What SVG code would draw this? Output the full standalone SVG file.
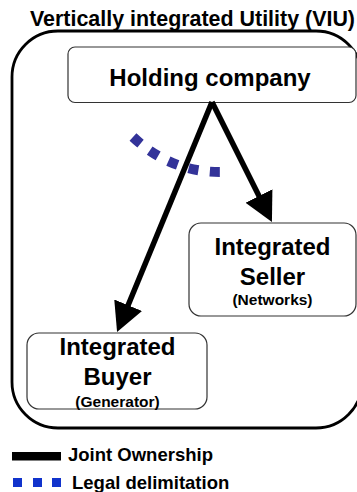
<svg xmlns="http://www.w3.org/2000/svg" width="357" height="492" viewBox="0 0 357 492">
  <defs>
    <style>
      text { font-family: "Liberation Sans", Arial, sans-serif; font-weight: bold; fill: #000; }
      .box { fill: #fff; stroke: #333; stroke-width: 1.2; }
      .own { fill: none; stroke: #000; stroke-width: 5.5; }
      .legal { fill: none; stroke: #333399; stroke-width: 10; stroke-dasharray: 10 11.5; }
      .big { font-size: 24px; text-anchor: middle; }
      .small { font-size: 15.5px; text-anchor: middle; }
      .leg { font-size: 18.5px; }
    </style>
    <marker id="head" markerUnits="userSpaceOnUse" markerWidth="32" markerHeight="32" viewBox="0 -16 32 32" refX="9" refY="0" orient="auto">
      <path d="M0,-15 L29,0 L0,15 z" fill="#000"/>
    </marker>
  </defs>

  <!-- utility boundary -->
  <g id="viu">
    <rect x="12" y="31" width="350" height="397" rx="46" ry="46" fill="#fff" stroke="#000" stroke-width="2.8"/>
    <text x="30" y="26" font-size="21.5" textLength="325" lengthAdjust="spacingAndGlyphs">Vertically integrated Utility (VIU)</text>
  </g>

  <g id="holding">
    <rect class="box" x="68" y="47" width="288" height="55.5" rx="7"/>
    <text class="big" x="210" y="86">Holding company</text>
  </g>

  <g id="seller">
    <rect class="box" x="189" y="223" width="167" height="93" rx="12"/>
    <text class="big" x="272.5" y="255">Integrated</text>
    <text class="big" x="272.5" y="285">Seller</text>
    <text class="small" x="272.5" y="305">(Networks)</text>
  </g>

  <g id="buyer">
    <rect class="box" x="27" y="333" width="180" height="76" rx="12"/>
    <text class="big" x="117.5" y="355">Integrated</text>
    <text class="big" x="117.5" y="385">Buyer</text>
    <text class="small" x="117.5" y="407">(Generator)</text>
  </g>

  <!-- ownership links and legal split -->
  <g id="connectors">
    <path class="legal" d="M133,137 Q170,172 220,172"/>
    <line class="own" x1="212" y1="102" x2="263" y2="204.1" marker-end="url(#head)"/>
    <line class="own" x1="212" y1="102" x2="124.7" y2="313.5" marker-end="url(#head)"/>
  </g>

  <!-- key -->
  <g id="legend">
    <rect x="12" y="452" width="49" height="8.5" fill="#000"/>
    <text class="leg" x="68" y="461">Joint Ownership</text>
    <rect x="13" y="478" width="9" height="9" fill="#1133cc"/>
    <rect x="33" y="478" width="9" height="9" fill="#1133cc"/>
    <rect x="52" y="478" width="9" height="9" fill="#1133cc"/>
    <text class="leg" x="72" y="489">Legal delimitation</text>
  </g>
</svg>
